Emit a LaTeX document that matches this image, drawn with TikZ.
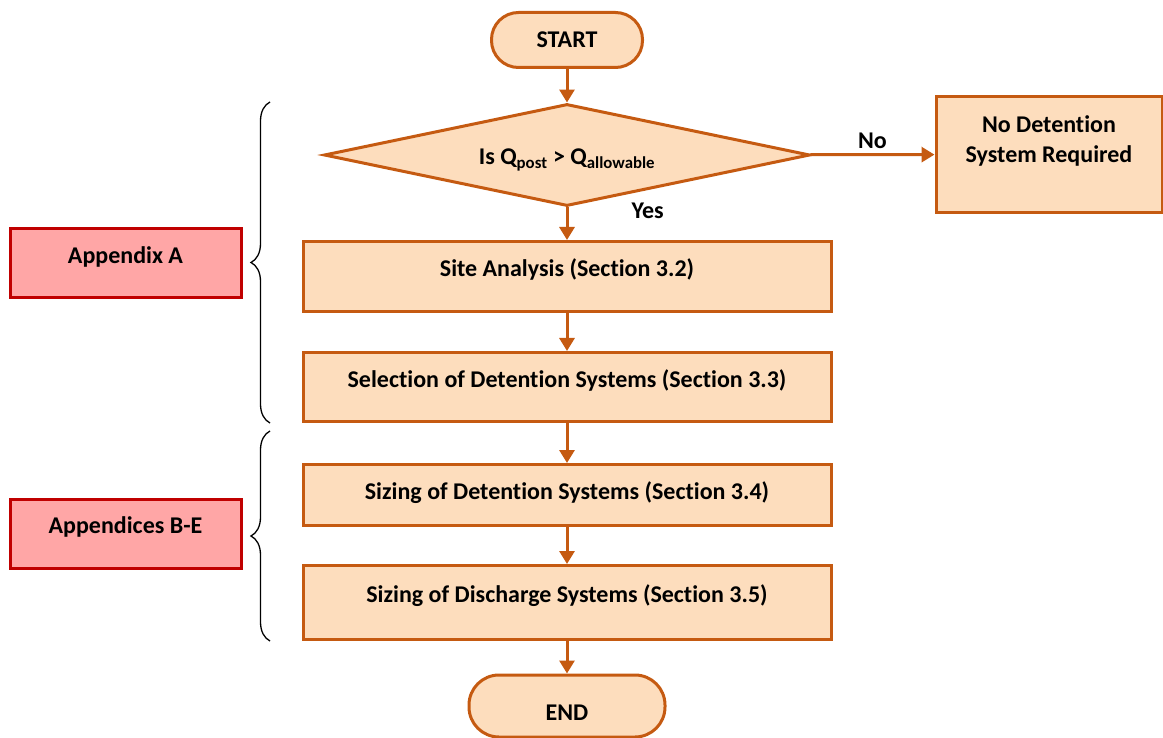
\documentclass[tikz,border=0pt]{standalone}
\usepackage{fontspec}
\setmainfont{Carlito}[Ligatures=NoCommon]
\usetikzlibrary{shapes.geometric,arrows.meta,decorations.pathreplacing}
\definecolor{ob}{HTML}{C55A11}
\definecolor{of}{HTML}{FDDDBD}
\definecolor{rb}{HTML}{C00000}
\definecolor{rf}{HTML}{FFA6A6}
\begin{document}
\begin{tikzpicture}[x=1pt,y=-1pt,
  every node/.style={font=\bfseries\fontsize{24}{30}\selectfont, text=black},
  proc/.style={draw=ob, fill=of, line width=3pt, rectangle, inner sep=0pt, minimum width=528pt, text height=12pt, text depth=12pt},
  term/.style={draw=ob, fill=of, line width=3pt, rectangle, inner sep=0pt},
  dec/.style={draw=ob, fill=of, line width=3pt, diamond, aspect=4.7, inner sep=0pt, minimum width=486pt, minimum height=102pt, text height=22pt, text depth=2pt},
  appx/.style={draw=rb, fill=rf, line width=3pt, rectangle, inner sep=0pt, minimum width=231pt, minimum height=69pt, text height=12pt, text depth=12pt},
  flow/.style={draw=ob, line width=3pt, -{Triangle[length=13pt,width=15pt]}},
  bracestyle/.style={draw=black, line width=1.3pt, decorate, decoration={brace, amplitude=19pt}},
  lbl/.style={font=\bfseries\fontsize{24}{30}\selectfont, inner sep=2pt}
]
\useasboundingbox (0,0) rectangle (1163,738);

\node[term, minimum width=151pt, minimum height=55pt, rounded corners=27pt] (start) at (567,40) {START};
\node[dec] (q) at (567,155) {Is Q\textsubscript{post} > Q\textsubscript{allowable}};
\node[term, minimum width=226pt, minimum height=116pt, align=center, text height=38pt, text depth=21pt] (nodet) at (1049,154.5) {No Detention\\System Required};
\node[proc, minimum height=70pt] (site) at (567,276.5) {Site Analysis (Section 3.2)};
\node[proc, minimum height=69pt] (sel) at (567,387) {Selection of Detention Systems (Section 3.3)};
\node[proc, minimum height=61pt, text height=16pt, text depth=8pt] (sdet) at (567,495) {Sizing of Detention Systems (Section 3.4)};
\node[proc, minimum height=74pt] (sdis) at (567,602.5) {Sizing of Discharge Systems (Section 3.5)};
\node[term, minimum width=196pt, minimum height=62pt, rounded corners=30pt, text height=30pt, text depth=2pt] (end) at (567,706) {END};

\node[appx] (appa) at (125.5,263.5) {Appendix A};
\node[appx] (appb) at (125.5,533.5) {Appendices B-E};

\draw[flow] (start) -- (q);
\draw[flow] (q) -- (nodet) node[lbl, midway, above=3pt] {No};
\draw[flow] (q) -- (site) node[lbl, pos=0.1, right=61pt] {Yes};
\draw[flow] (site) -- (sel);
\draw[flow] (sel) -- (sdet);
\draw[flow] (sdet) -- (sdis);
\draw[flow] (sdis) -- (end);

\coordinate (b1s) at (270,423);
\coordinate (b1e) at (270,102);
\coordinate (b2s) at (270,641);
\coordinate (b2e) at (270,431);
\draw[bracestyle] (b1s) -- (b1e);
\draw[bracestyle] (b2s) -- (b2e);
\end{tikzpicture}
\end{document}
